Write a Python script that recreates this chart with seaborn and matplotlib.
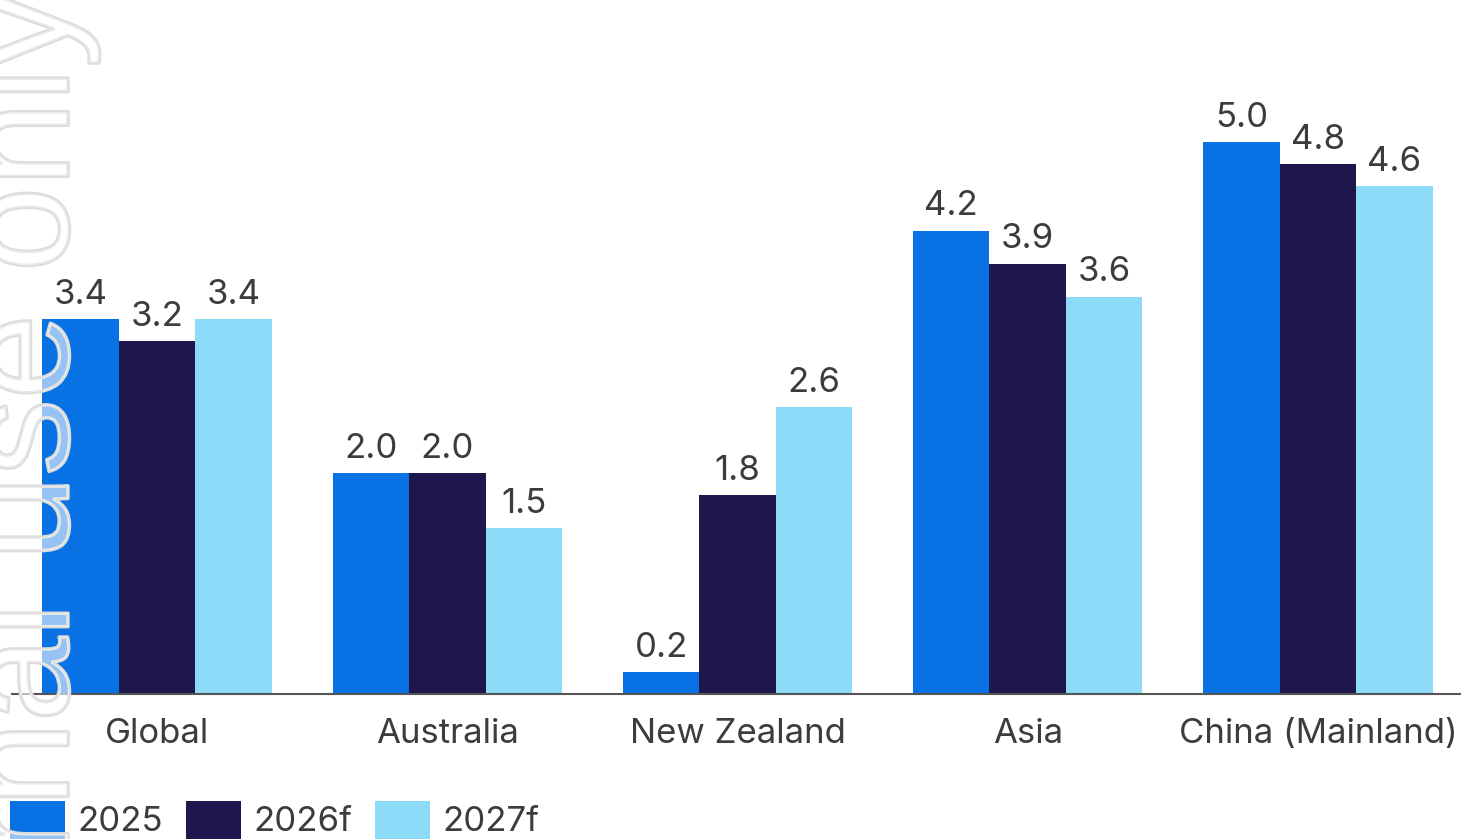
import matplotlib
matplotlib.use("Agg")
import matplotlib.pyplot as plt
import matplotlib.patheffects as pe
import seaborn as sns
import pandas as pd

regions = ["Global", "Australia", "New Zealand", "Asia", "China (Mainland)"]
years = ["2025", "2026f", "2027f"]
growth_2025 = [3.4, 2.0, 0.2, 4.2, 5.0]
growth_2026f = [3.2, 2.0, 1.8, 3.9, 4.8]
growth_2027f = [3.4, 1.5, 2.6, 3.6, 4.6]
colors = ["#0872E5", "#1E174D", "#8DDBF8"]

df = pd.DataFrame({
    "region": regions * 3,
    "year": [y for y in years for _ in regions],
    "growth": growth_2025 + growth_2026f + growth_2027f,
})

sns.set_theme(style="white")
plt.rcParams["font.family"] = ["Inter", "DejaVu Sans"]
text_color = "#3C3C3C"

fig = plt.figure(figsize=(14.61, 8.39), dpi=100)
ax = fig.add_axes([12 / 1461, 145 / 839, 1451 / 1461, 694 / 839])

sns.barplot(data=df, x="region", y="growth", hue="year", order=regions,
            hue_order=years, palette=colors, width=0.79, gap=0,
            saturation=1, linewidth=0, ax=ax, legend=False, errorbar=None)

for cont in ax.containers:
    ax.bar_label(cont, fmt="%.1f", padding=6, fontsize=25, color=text_color)

ax.set_xlim(-0.5, 4.5)
ax.set_ylim(0, 6.29)
ax.set_xlabel("")
ax.set_ylabel("")
ax.set_yticks([])
for side in ["top", "right", "left"]:
    ax.spines[side].set_visible(False)
ax.spines["bottom"].set_color("#555555")
ax.spines["bottom"].set_linewidth(1.5)
ax.tick_params(axis="x", length=0, pad=17, labelsize=25, labelcolor=text_color)

# Legend along the bottom edge
handles = [plt.Rectangle((0, 0), 1, 1, color=c, linewidth=0) for c in colors]
fig.legend(handles, years, loc="lower left", bbox_to_anchor=(0.002, -0.008),
           ncol=3, frameon=False, fontsize=25, labelcolor=text_color,
           handlelength=1.6, handleheight=1.3, handletextpad=0.34,
           columnspacing=0.66, borderaxespad=0.0, borderpad=0.2)

# Outlined classification stamp running up the left margin
fig.text(100 / 1461, 1.01, "Internal use only", rotation=90, ha="right", va="top",
         fontsize=110, color=(1, 1, 1, 0.35), family="Liberation Sans",
         path_effects=[pe.Stroke(linewidth=2.5, foreground="#DCDCDC"), pe.Normal()],
         zorder=10)

fig.savefig("out.png", dpi=100)
